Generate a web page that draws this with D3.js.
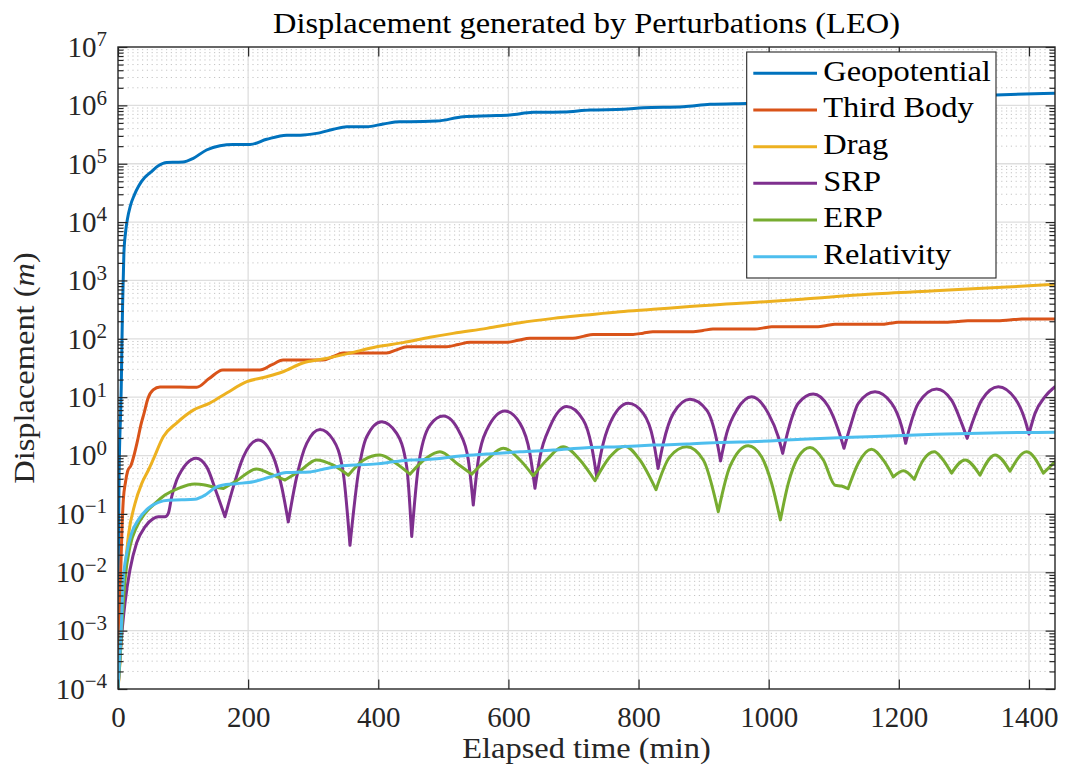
<!DOCTYPE html>
<html>
<head>
<meta charset="utf-8">
<script src="https://cdn.jsdelivr.net/npm/d3@7"></script>
<style>
  html, body { margin: 0; padding: 0; background: #fff; }
  svg, svg text, svg tspan { font-family: 'Liberation Serif', 'Times New Roman', serif !important; }
</style>
</head>
<body>
<svg id="chart" width="1065" height="771"></svg>
<script>
// ---- Displacement per perturbation, [elapsed minutes, metres] ----
const geopotential = [[0,1e-4],[0.5,0.01],[1.5,0.3],[3,2.5],[4,5],[5,15],[6,80],[7,350],[9,2800],[11.5,6500],[14.3,11000],[19,19000],[25,29000],[32,42000],[41,58000],[50,71000],[62,92000],[75,105000],[90,106000],[100,107000],[115.7,124000],[136,172000],[156.8,204000],[177,214000],[203,214000],[228.5,262000],[259,309000],[280,309000],[305,331000],[331,389000],[351.5,431000],[382,431000],[407.7,479000],[433,525000],[448.7,525000],[489.8,537000],[530.7,640000],[571.7,665000],[602.4,684000],[638.2,759000],[684.3,769000],[725.3,832000],[776.5,855000],[807.3,912000],[868.7,948000],[909.7,1040000],[966,1080000],[1060,1150000],[1160,1260000],[1260,1390000],[1349,1510000],[1440,1610000]];

const thirdBody = [[0,1e-4],[1,0.0005],[2.9,0.003],[5.7,0.04],[8.1,0.17],[11.5,0.35],[15,0.55],[20,0.68],[25,1.05],[30,1.8],[35,3.3],[40,5.3],[46,9.5],[54,13.3],[64.5,14.9],[95,14.9],[121,14.8],[140,20.8],[161,29.2],[218,29.2],[236,35.6],[253.6,43.4],[315,43.4],[331,49.8],[345.8,57.1],[413,57.1],[428,64.7],[444,73.3],[505.6,73.3],[523,79.9],[541,87.1],[597.8,87.1],[615,94.3],[633,102],[699,102],[715,110],[730,119],[791.5,119],[807,125],[822,132],[883.7,132],[899,139],[914.4,147],[979,147],[992,154],[1004.6,161],[1075.8,161],[1089,169],[1101.9,177],[1174,177],[1186,184],[1198.7,192],[1275.5,192],[1290,198],[1306,204],[1347.8,204],[1370,210],[1389,218],[1440,218]];

const drag = [[0,1e-4],[1.5,1.6e-4],[3,0.0003],[5.7,0.00105],[9.7,0.0074],[15.8,0.041],[26.1,0.15],[36.4,0.33],[46.6,0.56],[54,0.85],[69.6,2.1],[90,3.6],[115.7,6.0],[141,7.9],[167,11.8],[198,18.4],[228.5,22.4],[253.6,27.3],[284,38.5],[315,45],[356.5,57],[397.6,73],[438,86],[479.5,106],[515,124],[566.6,151],[617.8,189],[669,224],[720,256],[771.5,291],[822.6,320],[874,355],[956,405],[1050.7,475],[1153,579],[1255.6,667],[1358,763],[1440,859]];

const srp = [[0,1e-4],[4,5e-4],[10.8,0.003],[18.4,0.011],[28.7,0.032],[41.5,0.06],[54.2,0.083],[62,0.089],[72.2,0.089],[77.3,0.102],[82.5,0.197],[90.2,0.38],[98,0.56],[105.6,0.73],[120,0.9],[136.3,0.64],[151.7,0.225],[164.4,0.0895],[177.2,0.29],[192.6,0.95],[215.6,1.85],[238.7,0.95],[251.6,0.29],[261.7,0.073],[274.6,0.43],[290,1.62],[310.4,2.8],[330.9,1.85],[346.2,0.5],[356.5,0.029],[369.3,0.5],[382.2,2.1],[405,3.8],[428.3,2.4],[443.7,0.64],[451.4,0.041],[461.5,0.64],[479.5,3.33],[500,4.75],[525.6,2.4],[538.4,0.84],[546,0.142],[553.7,0.84],[566.6,2.73],[594.7,5.8],[617.8,3.56],[633,1.09],[640.8,0.274],[648.5,0.95],[663.9,3.12],[689.6,6.9],[715,4.06],[728,1.42],[735.7,0.434],[743.3,1.24],[756,3.56],[784.2,7.85],[807.3,5.28],[822.6,1.85],[830,0.6],[838,1.62],[853.4,5.28],[879,9.2],[904.7,6.0],[920,1.85],[926,0.81],[935.4,2.4],[952,6.3],[973.9,10.2],[999.4,5.28],[1014.7,2.1],[1021.5,1.09],[1030,2.73],[1045.5,7.85],[1068.5,11.3],[1091.6,6.9],[1107,2.73],[1115.7,1.33],[1125.3,3.12],[1137.7,7.85],[1163.4,12.4],[1189,7.85],[1204.4,3.12],[1210.5,1.62],[1217,3.12],[1230,7.85],[1258,13.8],[1281,8.9],[1296.6,3.56],[1305,1.97],[1314.4,4.06],[1327.3,8.9],[1352.9,15.1],[1378.5,9.5],[1393.9,4.06],[1400,2.34],[1409.3,5.28],[1424.6,10.2],[1440,15.1]];

const erp = [[0,1e-4],[2.5,2.5e-4],[5,0.0008],[10.8,0.0074],[18.4,0.0275],[28.7,0.06],[41.5,0.102],[56.9,0.151],[72.2,0.21],[92.7,0.274],[118,0.325],[133.7,0.313],[149,0.285],[162,0.272],[182.3,0.37],[213,0.59],[235,0.48],[256.6,0.38],[281,0.56],[305,0.84],[330,0.69],[354,0.46],[377,0.83],[402.6,1.02],[427,0.74],[448.7,0.48],[473,0.89],[494.8,1.16],[520.5,0.74],[543.6,0.48],[566.6,0.84],[592,1.33],[617.8,0.84],[638,0.45],[658.8,0.84],[684,1.41],[710,0.84],[733,0.37],[756,0.95],[779,1.45],[802,0.84],[826.8,0.26],[848,0.95],[874,1.41],[899.5,0.84],[922.5,0.109],[940.5,0.65],[968.6,1.47],[989,0.95],[1004.6,0.33],[1018,0.079],[1030,0.33],[1045.5,0.95],[1063.5,1.38],[1084,0.84],[1102,0.31],[1112,0.3],[1122,0.27],[1137.7,0.74],[1158,1.28],[1176,0.84],[1191.5,0.43],[1207,0.55],[1223.8,0.39],[1237.6,0.84],[1254.5,1.16],[1266,0.9],[1281,0.5],[1301.7,0.84],[1324.7,0.46],[1347.8,1.02],[1370.8,0.54],[1396.5,1.16],[1422,0.5],[1440,0.78]];

const relativity = [[0,1e-4],[2,2.5e-4],[4.5,0.0008],[8.1,0.0074],[13.4,0.021],[21,0.047],[31.2,0.079],[46.6,0.126],[62,0.158],[77.3,0.172],[98,0.174],[118,0.178],[133.7,0.21],[149,0.28],[160,0.31],[182,0.33],[208,0.356],[233.6,0.43],[259,0.51],[295,0.525],[320.7,0.6],[346,0.67],[397.6,0.72],[423,0.78],[448.7,0.84],[479.5,0.86],[525.6,0.98],[566.6,1.06],[617.8,1.16],[669,1.24],[720,1.36],[771.5,1.42],[822.6,1.51],[874,1.57],[925,1.68],[956,1.70],[1050.7,1.9],[1153,2.1],[1255.6,2.31],[1358,2.46],[1440,2.5]];

const seriesNames  = ["Geopotential", "Third Body", "Drag", "SRP", "ERP", "Relativity"];
const seriesData   = [geopotential, thirdBody, drag, srp, erp, relativity];
// series whose minima are sharp notches (|sin|-like envelopes)
const notchedSeries = ["SRP", "ERP"];
const seriesColors = ["#0072BD", "#D95319", "#EDB120", "#7E2F8E", "#77AC30", "#4DBEEE"];

const xTickValues = [0, 200, 400, 600, 800, 1000, 1200, 1400];
const yExponents  = [-4, -3, -2, -1, 0, 1, 2, 3, 4, 5, 6, 7];

const titleText  = "Displacement generated by Perturbations (LEO)";
const xLabelText = "Elapsed time (min)";

// ---- layout ----
const plot = { left: 118, right: 1055, top: 47, bottom: 689 };
const ink = "#262626";
const serif = "'Liberation Serif', 'Times New Roman', serif";
const wordStretch = 1.1;   // widen serif words a little
const majorTick = 9.4, minorTick = 5.5;

const svg = d3.select("#chart");
svg.append("rect").attr("width", 1065).attr("height", 771).attr("fill", "#fff");

const x = d3.scaleLinear().domain([0, 1440]).range([plot.left, plot.right]);
const y = d3.scaleLog().domain([1e-4, 1e7]).range([plot.bottom, plot.top]);

const decades = yExponents.map(e => Math.pow(10, e));
const minorValues = [];
for (let e = -4; e < 7; e++) for (let m = 2; m <= 9; m++) minorValues.push(m * Math.pow(10, e));

// ---- grid ----
const grid = svg.append("g");
grid.selectAll("line.minor").data(minorValues).join("line")
  .attr("x1", plot.left).attr("x2", plot.right)
  .attr("y1", d => y(d)).attr("y2", d => y(d))
  .attr("stroke", "#c4c4c4").attr("stroke-width", 1)
  .attr("stroke-dasharray", "1.2,3.6");
grid.selectAll("line.hmajor").data(decades.slice(1, -1)).join("line")
  .attr("x1", plot.left).attr("x2", plot.right)
  .attr("y1", d => y(d)).attr("y2", d => y(d))
  .attr("stroke", "#dedede").attr("stroke-width", 1.3);
grid.selectAll("line.vmajor").data(xTickValues.slice(1)).join("line")
  .attr("x1", d => x(d)).attr("x2", d => x(d))
  .attr("y1", plot.top).attr("y2", plot.bottom)
  .attr("stroke", "#dedede").attr("stroke-width", 1.3);

// ---- curves ----
svg.append("clipPath").attr("id", "plotClip").append("rect")
  .attr("x", plot.left).attr("y", plot.top)
  .attr("width", plot.right - plot.left).attr("height", plot.bottom - plot.top);

const line = d3.line().x(d => x(d[0])).y(d => y(d[1])).curve(d3.curveMonotoneX);

// Split at local minima so notches stay pointed, then join the pieces.
function notchedPath(data) {
  const pieces = [];
  let start = 0;
  for (let i = 1; i < data.length - 1; i++) {
    if (data[i][1] < data[i - 1][1] && data[i][1] < data[i + 1][1]) {
      pieces.push(data.slice(start, i + 1));
      start = i;
    }
  }
  pieces.push(data.slice(start));
  return pieces.map((p, k) => {
    const s = line(p);
    return k === 0 ? s : s.replace(/^M[^A-Za-z]*/, "");
  }).join("");
}

const curves = svg.append("g").attr("clip-path", "url(#plotClip)");
seriesData.forEach((data, i) => {
  const name = seriesNames[i];
  curves.append("path")
    .attr("d", notchedSeries.includes(name) ? notchedPath(data) : line(data))
    .attr("fill", "none")
    .attr("stroke", seriesColors[i])
    .attr("stroke-width", 3)
    .attr("stroke-linejoin", "round")
    .attr("stroke-linecap", "round");
});

// ---- axes ----
function styleAxis(g) {
  g.attr("font-family", null).attr("font-size", null).style("font-family", serif);
  g.select(".domain").remove();
  g.selectAll(".tick line").attr("stroke", ink).attr("stroke-width", 1.2);
}

// bottom axis with labels
const gx = svg.append("g").attr("transform", `translate(0,${plot.bottom})`)
  .call(d3.axisBottom(x).tickValues(xTickValues).tickSizeInner(-majorTick).tickSizeOuter(0)
    .tickPadding(20).tickFormat(d3.format("d")));
styleAxis(gx);
gx.selectAll(".tick text").attr("fill", ink).style("font-size", "29px")
  .style("font-family", serif).attr("dy", null).attr("y", 38);

// top axis ticks
const gxt = svg.append("g").attr("transform", `translate(0,${plot.top})`)
  .call(d3.axisTop(x).tickValues(xTickValues).tickSizeInner(-majorTick).tickSizeOuter(0).tickFormat(""));
styleAxis(gxt);

// left axis: decades with labels, minor ticks
const gy = svg.append("g").attr("transform", `translate(${plot.left},0)`)
  .call(d3.axisLeft(y).tickValues(decades).tickSizeInner(-majorTick).tickSizeOuter(0)
    .tickPadding(11).tickFormat(() => ""));
styleAxis(gy);
gy.selectAll(".tick text").each(function (d) {
  const t = d3.select(this);
  const e = Math.round(Math.log10(d));
  t.text(null).attr("fill", ink).style("font-family", serif)
    .attr("dy", null).attr("y", 9.3).attr("text-anchor", "end");
  t.append("tspan").style("font-size", "29px").text("10");
  t.append("tspan").style("font-size", "21px").attr("dy", -10.4)
    .text(e < 0 ? "\u2212" + Math.abs(e) : String(e));
});
const gyMinor = svg.append("g").attr("transform", `translate(${plot.left},0)`)
  .call(d3.axisLeft(y).tickValues(minorValues).tickSizeInner(-minorTick).tickSizeOuter(0).tickFormat(""));
styleAxis(gyMinor);

// right axis ticks
const gyr = svg.append("g").attr("transform", `translate(${plot.right},0)`)
  .call(d3.axisRight(y).tickValues(decades).tickSizeInner(-majorTick).tickSizeOuter(0).tickFormat(""));
styleAxis(gyr);
const gyrMinor = svg.append("g").attr("transform", `translate(${plot.right},0)`)
  .call(d3.axisRight(y).tickValues(minorValues).tickSizeInner(-minorTick).tickSizeOuter(0).tickFormat(""));
styleAxis(gyrMinor);

// frame
svg.append("rect")
  .attr("x", plot.left).attr("y", plot.top)
  .attr("width", plot.right - plot.left).attr("height", plot.bottom - plot.top)
  .attr("fill", "none").attr("stroke", ink).attr("stroke-width", 1.4);

// ---- text ----
function wordLabel(parent, tx, ty, extra) {
  return parent.append("text")
    .attr("transform", `translate(${tx},${ty}) ${extra || ""} scale(${wordStretch},1)`)
    .style("font-family", serif).style("font-size", "29.5px");
}

wordLabel(svg, (plot.left + plot.right) / 2, 32.5)
  .attr("text-anchor", "middle").attr("fill", "#000")
  .text(titleText);

wordLabel(svg, (plot.left + plot.right) / 2, 758)
  .attr("text-anchor", "middle").attr("fill", ink)
  .text(xLabelText);

const yl = wordLabel(svg, 34, (plot.top + plot.bottom) / 2, "rotate(-90)")
  .attr("text-anchor", "middle").attr("fill", ink);
yl.append("tspan").text("Displacement (");
yl.append("tspan").attr("font-style", "italic").text("m");
yl.append("tspan").text(")");

// ---- legend ----
const legend = { x: 746.7, y: 52, w: 249.3, h: 226, firstRow: 21.3, rowStep: 36.67 };
const lg = svg.append("g");
lg.append("rect")
  .attr("x", legend.x).attr("y", legend.y).attr("width", legend.w).attr("height", legend.h)
  .attr("fill", "#fff").attr("stroke", ink).attr("stroke-width", 1.1);
seriesNames.forEach((name, i) => {
  const cy = legend.y + legend.firstRow + i * legend.rowStep;
  lg.append("line")
    .attr("x1", legend.x + 6.6).attr("x2", legend.x + 70.3)
    .attr("y1", cy).attr("y2", cy)
    .attr("stroke", seriesColors[i]).attr("stroke-width", 3);
  wordLabel(lg, legend.x + 76.6, cy + 7.4)
    .attr("fill", "#000")
    .text(name);
});
</script>
</body>
</html>
